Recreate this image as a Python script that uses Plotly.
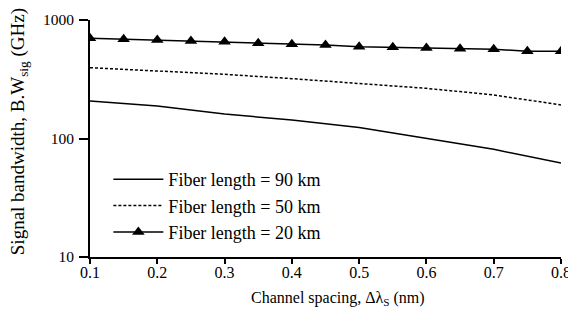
import plotly.graph_objects as go

x_spacing = [0.1, 0.15, 0.2, 0.25, 0.3, 0.35, 0.4, 0.45, 0.5, 0.55, 0.6, 0.65, 0.7, 0.75, 0.8]
x_coarse = [0.1, 0.2, 0.3, 0.4, 0.5, 0.6, 0.7, 0.8]
x_ticklabels = ["0.1", "0.2", "0.3", "0.4", "0.5", "0.6", "0.7", "0.8"]
y_tickvals = [10, 100, 1000]
y_ticklabels = ["10", "100", "1000"]

bw_90km = [207, 188, 161, 143, 124, 100, 81, 62]
bw_50km = [396, 373, 348, 320, 292, 265, 233, 192]
bw_20km = [701, 687, 678, 665, 656, 636, 624, 615, 595, 588, 580, 573, 566, 545, 545]

font_family = "Liberation Serif, Times New Roman, serif"

fig = go.Figure()
fig.add_trace(go.Scatter(x=x_coarse, y=bw_90km, mode="lines",
                         line=dict(color="black", width=1.5),
                         name="Fiber length = 90 km"))
fig.add_trace(go.Scatter(x=x_coarse, y=bw_50km, mode="lines",
                         line=dict(color="black", width=1.5, dash="3px,2px"),
                         name="Fiber length = 50 km"))
fig.add_trace(go.Scatter(x=x_spacing, y=bw_20km, mode="lines+markers",
                         line=dict(color="black", width=1.5),
                         marker=dict(symbol="triangle-up", size=11, color="black"),
                         name="Fiber length = 20 km"))

# page body has an 8px margin, so the figure is offset by (8, 8)
fig.update_layout(
    width=576, height=320,
    margin=dict(l=82, r=23, t=12, b=71),
    paper_bgcolor="white", plot_bgcolor="white",
    font=dict(family=font_family, size=16, color="black"),
    showlegend=True,
    legend=dict(x=0.039, y=0.405, xanchor="left", yanchor="top",
                bgcolor="rgba(0,0,0,0)", font=dict(family=font_family, size=18),
                tracegroupgap=0, itemwidth=50),
    xaxis=dict(range=[0.1, 0.8], tickvals=x_coarse, ticktext=x_ticklabels,
               automargin=False,
               tickfont=dict(family=font_family, size=16),
               ticklabelstandoff=-5,
               showgrid=False, zeroline=False, showline=True, linecolor="black",
               linewidth=2, ticks="outside", ticklen=5, tickwidth=2, tickcolor="black"),
    yaxis=dict(type="log", range=[1, 3], tickvals=y_tickvals, ticktext=y_ticklabels,
               automargin=False,
               tickfont=dict(family=font_family, size=15.5),
               ticklabelstandoff=2,
               showgrid=False, zeroline=False, showline=True, linecolor="black",
               linewidth=2, ticks="outside", ticklen=9, tickwidth=2, tickcolor="black"),
    annotations=[
        dict(text="Channel spacing, Δλ<sub>S</sub> (nm)", xref="paper", yref="paper",
             x=0.527, y=-0.176, xanchor="center", yanchor="middle", showarrow=False,
             font=dict(family=font_family, size=16)),
        dict(text="Signal bandwidth, B.W<sub>sig</sub> (GHz)", xref="paper", yref="paper",
             x=-0.149, y=0.53, xanchor="center", yanchor="middle", showarrow=False,
             textangle=-90, font=dict(family=font_family, size=19)),
    ],
)

fig.write_html("out.html")
